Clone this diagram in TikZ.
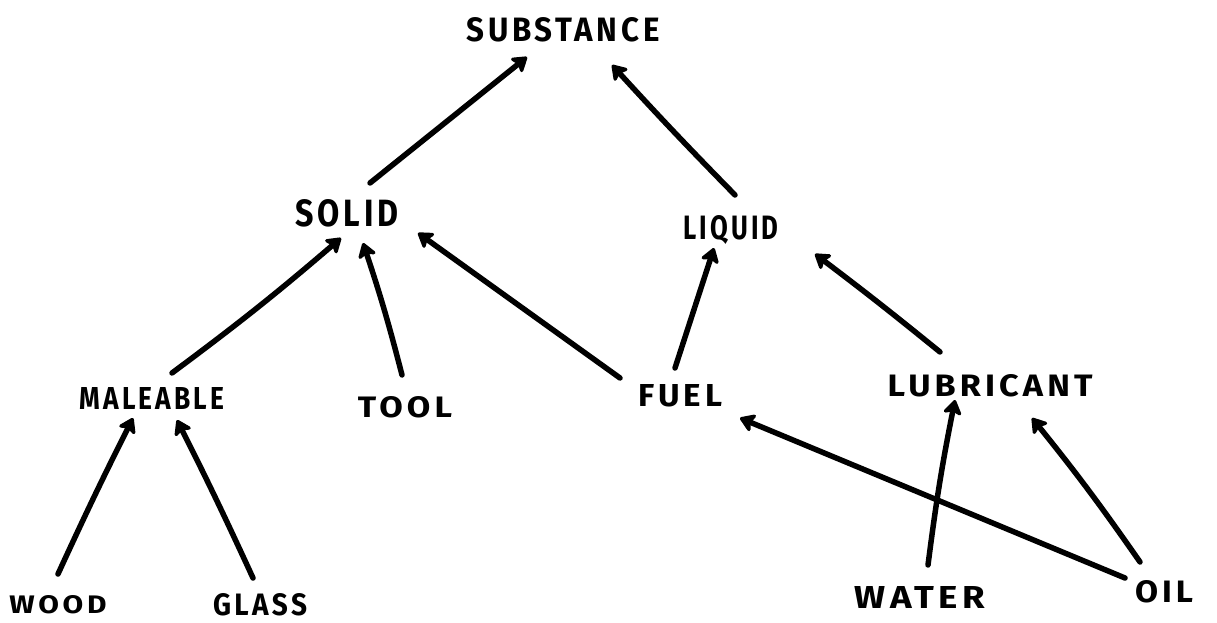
\documentclass[tikz,border=0pt]{standalone}
\usepackage{fontspec}
\usepackage{graphicx}
\setsansfont{Fira Sans}
\usetikzlibrary{arrows.meta}
\newcommand{\lab}[3]{\resizebox{#1pt}{#2pt}{\sffamily\bfseries\addfontfeature{LetterSpace=12} #3}}
\tikzset{
  lbl/.style={inner sep=0pt, outer sep=0pt},
  arr/.style={line width=5.5pt, line cap=round, line join=round, -{Stealth[length=17pt,width=22pt,inset=4pt,round]}}
}
\begin{document}
\begin{tikzpicture}[x=1pt,y=-1pt]
\useasboundingbox (0,0) rectangle (1217,623);
\node[lbl] (subst) at (563,30) {\lab{193}{24}{SUBSTANCE}};
\node[lbl] (solid) at (347,213) {\lab{103}{27}{SOLID}};
\node[lbl] (liquid) at (731,230) {\lab{95}{24}{LIQUID}};
\node[lbl] (male) at (152,398) {\lab{145}{22}{MALEABLE}};
\node[lbl] (tool) at (405,407) {\lab{94}{21}{TOOL}};
\node[lbl] (fuel) at (680,396) {\lab{84}{22}{FUEL}};
\node[lbl] (lubr) at (990,386) {\lab{205}{22}{LUBRICANT}};
\node[lbl] (wood) at (58,605) {\lab{97}{18}{WOOD}};
\node[lbl] (glass) at (260,605) {\lab{94}{22}{GLASS}};
\node[lbl] (water) at (920,597) {\lab{130}{22}{WATER}};
\node[lbl] (oil) at (1164,592) {\lab{58}{22}{OIL}};

\draw[arr] ([shift={(23,-30)}]solid.center) -- ([shift={(-36,27)}]subst.center);
\draw[arr] ([shift={(4,-35)}]liquid.center) to[bend left=1] ([shift={(49,35)}]subst.center);
\draw[arr] ([shift={(20,-25)}]male.center) to[bend right=2] ([shift={(-6,25)}]solid.center);
\draw[arr] ([shift={(-3,-32)}]tool.center) to[bend right=2] ([shift={(16,30)}]solid.center);
\draw[arr] ([shift={(-60,-18)}]fuel.center) -- ([shift={(71,20)}]solid.center);
\draw[arr] ([shift={(-5,-28)}]fuel.center) -- ([shift={(-17,18)}]liquid.center);
\draw[arr] ([shift={(-50,-34)}]lubr.center) to[bend right=1] ([shift={(84,24)}]liquid.center);
\draw[arr] ([shift={(0,-31)}]wood.center) to[bend left=1] ([shift={(-19,20)}]male.center);
\draw[arr] ([shift={(-7,-27)}]glass.center) to[bend right=1] ([shift={(25,22)}]male.center);
\draw[arr] ([shift={(8,-32)}]water.center) to[bend left=2] ([shift={(-35,14)}]lubr.center);
\draw[arr] ([shift={(-39,-14)}]oil.center) -- ([shift={(60,22)}]fuel.center);
\draw[arr] ([shift={(-24,-30)}]oil.center) to[bend right=2] ([shift={(42,32)}]lubr.center);
\end{tikzpicture}
\end{document}
